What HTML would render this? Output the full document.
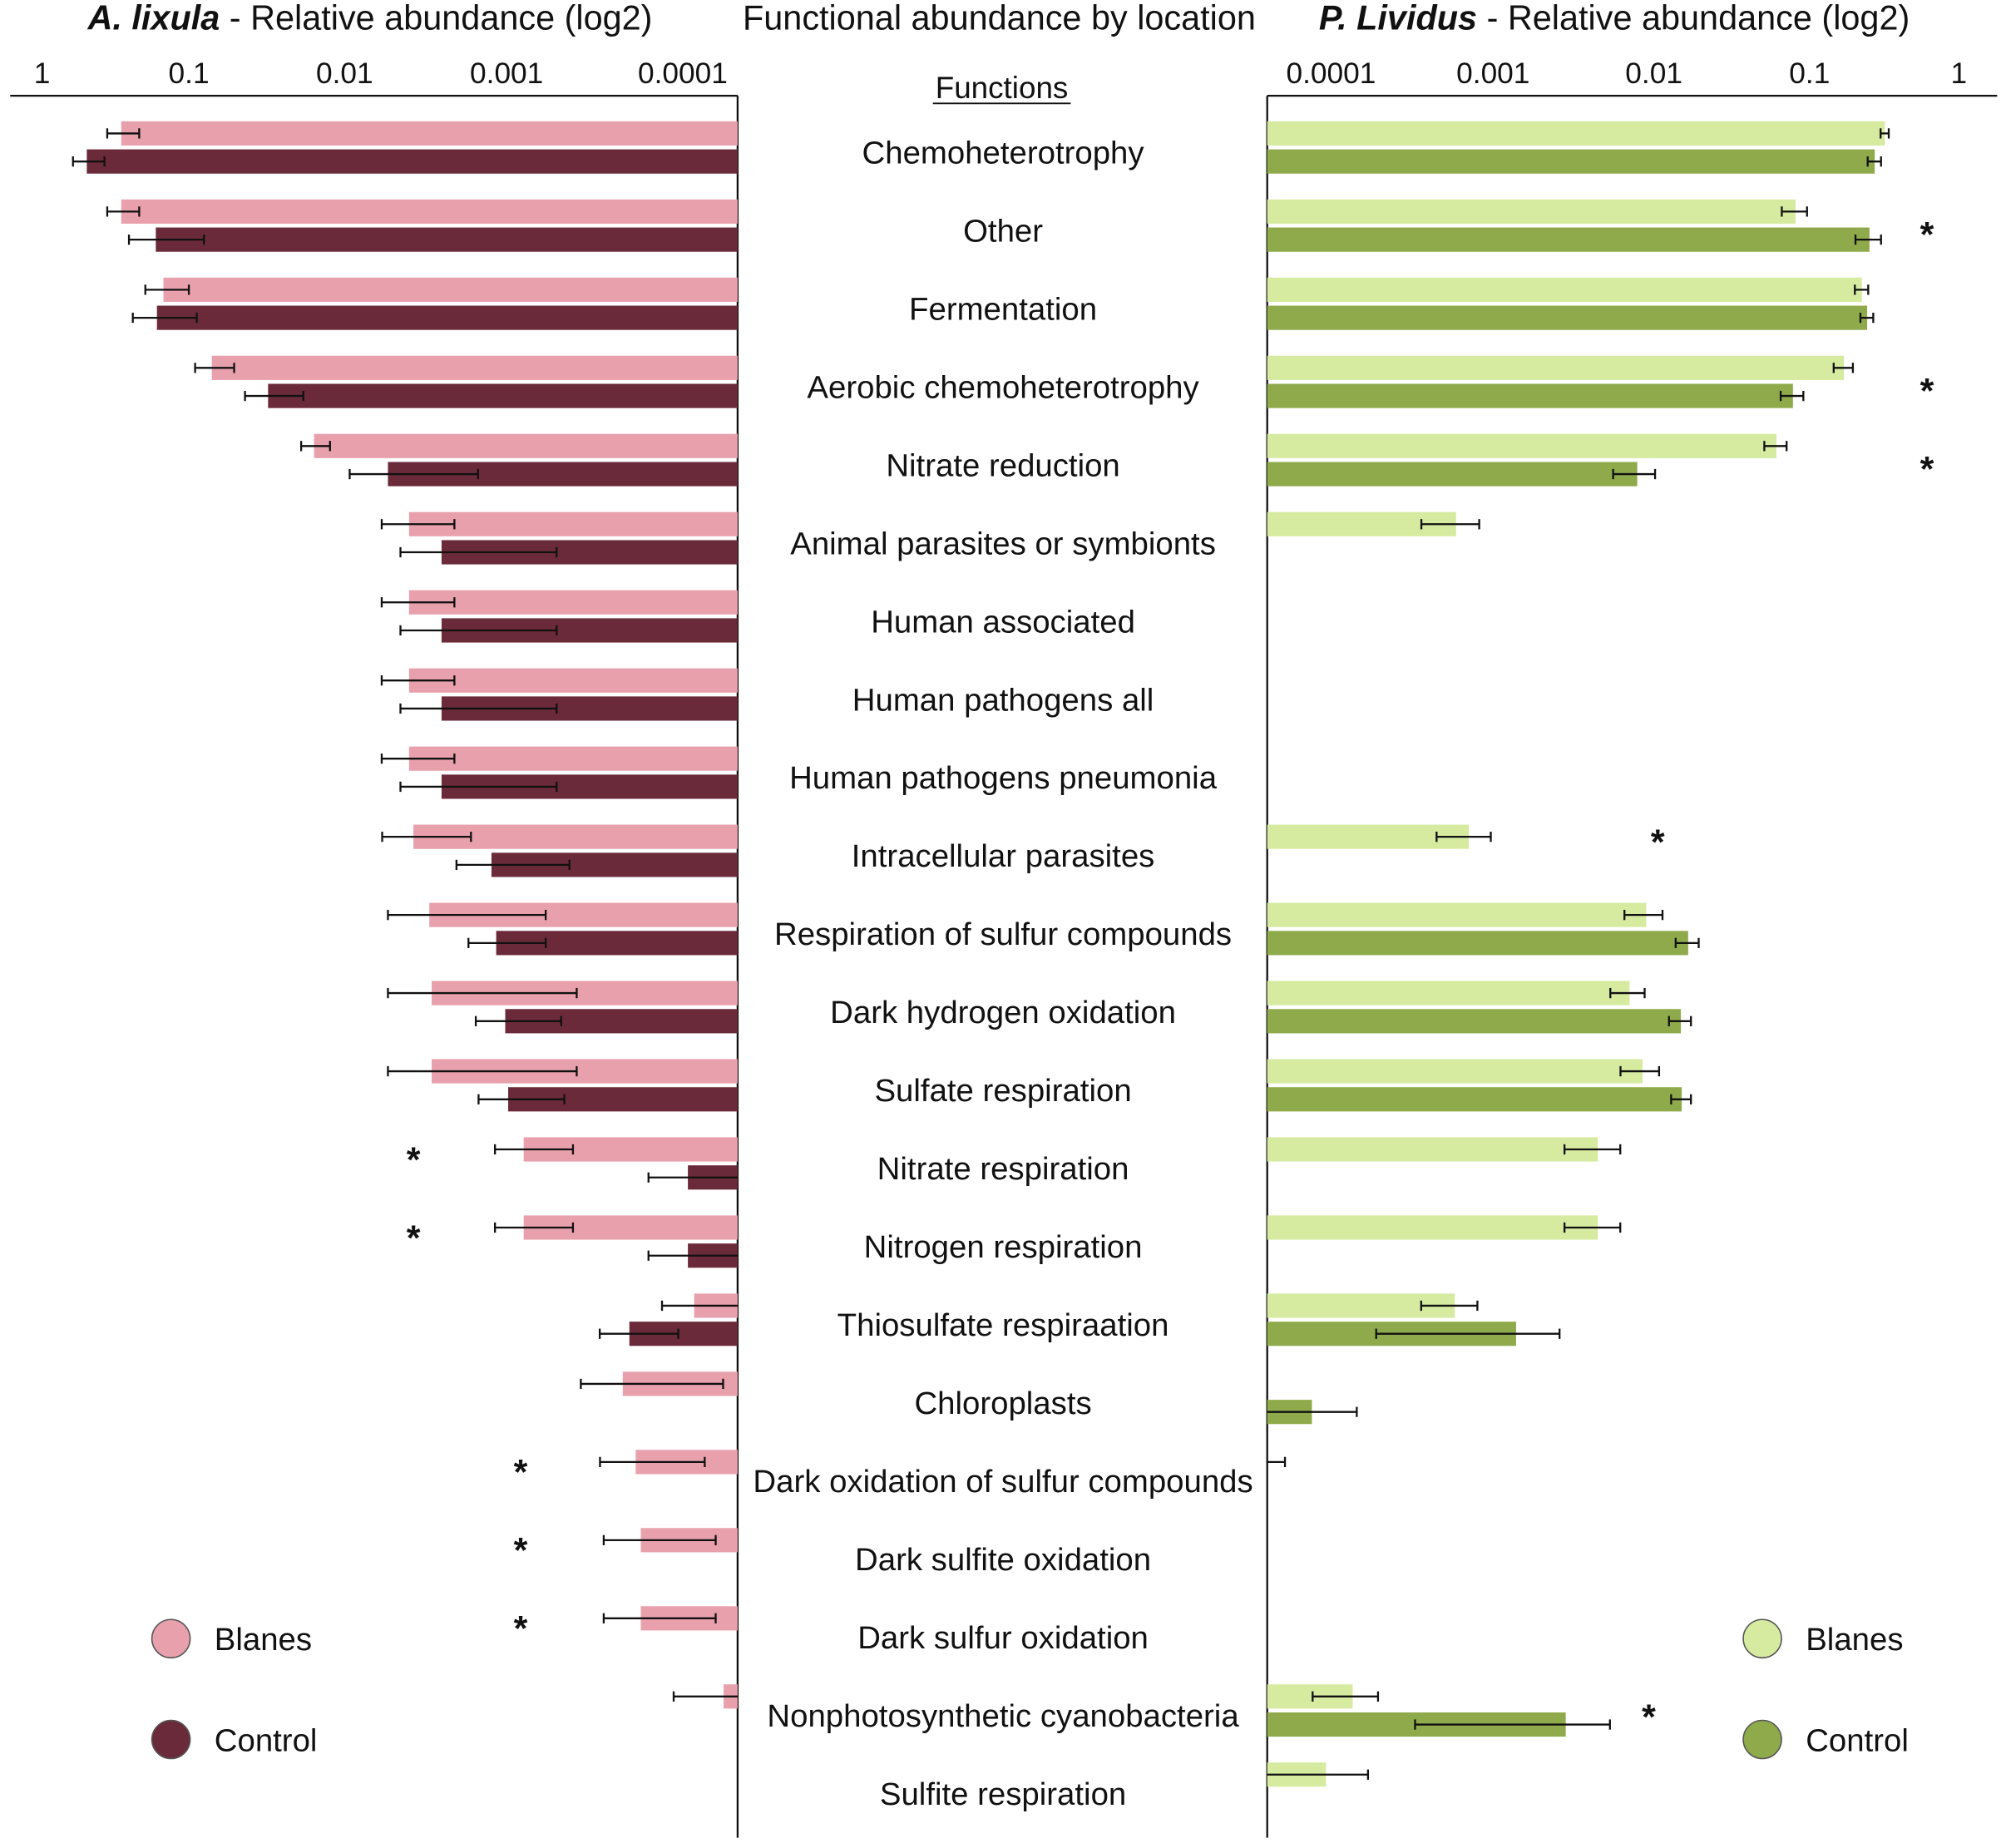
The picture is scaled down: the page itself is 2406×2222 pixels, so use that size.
<!DOCTYPE html>
<html><head><meta charset="utf-8">
<style>
html,body{margin:0;padding:0;background:#fff}
svg{display:block}
text{font-family:"Liberation Sans",sans-serif;fill:#111}
</style></head>
<body>
<svg id="chart" width="2406" height="2222" viewBox="0 0 1568 1448" xmlns="http://www.w3.org/2000/svg">
<g>
<text x="290" y="23" font-size="27" text-anchor="middle"><tspan font-weight="bold" font-style="italic">A. lixula</tspan> - Relative abundance (log2)</text>
<text x="783" y="23" font-size="27" text-anchor="middle">Functional abundance by location</text>
<text x="1265" y="23" font-size="27" text-anchor="middle"><tspan font-weight="bold" font-style="italic">P. Lividus</tspan> - Relative abundance (log2)</text>
<text x="785" y="77" font-size="24" text-anchor="middle">Functions</text>
<line x1="731" y1="81" x2="839" y2="81" stroke="#111" stroke-width="1.2"/>
</g>
<g id="axes"></g>
<g id="bars"></g>
<g id="labels"></g>
<g id="legend">
<circle cx="134" cy="1284" r="15" fill="#e8a0ad" stroke="#555" stroke-width="1"/>
<text x="168" y="1293" font-size="25">Blanes</text>
<circle cx="134" cy="1363" r="15" fill="#6b2a3a" stroke="#555" stroke-width="1"/>
<text x="168" y="1372" font-size="25">Control</text>
<circle cx="1381" cy="1284" r="15" fill="#d6eaa0" stroke="#555" stroke-width="1"/>
<text x="1415" y="1293" font-size="25">Blanes</text>
<circle cx="1381" cy="1363" r="15" fill="#8faa4a" stroke="#555" stroke-width="1"/>
<text x="1415" y="1372" font-size="25">Control</text>
</g>
</svg>
<script>
const functions = ["Chemoheterotrophy","Other","Fermentation","Aerobic chemoheterotrophy","Nitrate reduction","Animal parasites or symbionts","Human associated","Human pathogens all","Human pathogens pneumonia","Intracellular parasites","Respiration of sulfur compounds","Dark hydrogen oxidation","Sulfate respiration","Nitrate respiration","Nitrogen respiration","Thiosulfate respiraation","Chloroplasts","Dark oxidation of sulfur compounds","Dark sulfite oxidation","Dark sulfur oxidation","Nonphotosynthetic cyanobacteria","Sulfite respiration"];
const tickLabels = ["1","0.1","0.01","0.001","0.0001"];
const tickValues = [1,0.1,0.01,0.001,0.0001];
const lixBlanes = [0.289,0.289,0.149,0.0712,0.0157,0.0040,0.0040,0.0040,0.0040,0.00376,0.0030,0.0029,0.0029,0.00080,0.00080,0.0000861,0.000219,0.000185,0.000173,0.000173,0.0000586,0];
const lixBlanesSd = [0.071,0.071,0.049,0.020,0.0033,0.0019,0.0019,0.0019,0.0019,0.0021,0.0024,0.0025,0.0025,0.00038,0.00038,0.000045,0.00016,0.00011,0.000108,0.000108,0.000054,0];
const lixControl = [0.496,0.168,0.165,0.031,0.0054,0.00252,0.00252,0.00252,0.00252,0.00124,0.00116,0.00102,0.00098,0.0000935,0.0000935,0.000201,0,0,0,0,0,0];
const lixControlSd = [0.12,0.088,0.076,0.0126,0.0039,0.0020,0.0020,0.0020,0.0020,0.0008,0.00056,0.00053,0.00051,0.000063,0.000063,0.000095,0,0,0,0,0,0];
const livBlanes = [0.319,0.0813,0.224,0.170,0.0612,0.000591,0,0,0,0.000708,0.00896,0.00706,0.0085,0.00448,0.00448,0.00058,0,0.00003,0,0,0.000136,0.0000931];
const livBlanesSd = [0.02,0.015,0.023,0.025,0.010,0.00023,0,0,0,0.00026,0.0024,0.0017,0.0023,0.0017,0.0017,0.00022,0,0.000022,0,0,0.000059,0.000076];
const livControl = [0.273,0.252,0.243,0.0782,0.00788,0,0,0,0,0,0.0166,0.0149,0.0151,0,0,0.00139,0.0000762,0,0,0,0.00283,0];
const livControlSd = [0.028,0.049,0.024,0.013,0.0023,0,0,0,0,0,0.0028,0.0024,0.0022,0,0,0.0012,0.000068,0,0,0,0.0025,0];
const lixStars = [13,14,17,18,19];
const livStars = [1,3,4,9,20];

const NS="http://www.w3.org/2000/svg";
function mk(tag,attrs,parent){const e=document.createElementNS(NS,tag);for(const k in attrs)e.setAttribute(k,attrs[k]);parent.appendChild(e);return e;}
const leftPos=[33,148,270,397,535], rightPos=[1535,1418,1296,1170,1043];
function interp(pos,v){
  const L=-Math.log10(v);
  let i=Math.floor(L); if(i<0)i=0; if(i>3)i=3;
  return pos[i]+(pos[i+1]-pos[i])*(L-i);
}
const xL=v=>interp(leftPos,v), xR=v=>interp(rightPos,v);
const LAX=578, RAX=993;
const rowY=i=>120+i*61.24;
const axes=document.getElementById('axes'), bars=document.getElementById('bars'), labels=document.getElementById('labels');

let e;
e=mk('line',{x1:8,y1:75,x2:LAX,y2:75,stroke:'#111','stroke-width':1.5},axes);


e=mk('line',{x1:LAX,y1:75,x2:LAX,y2:1440,stroke:'#111','stroke-width':1.5},axes);


e=mk('line',{x1:RAX,y1:75,x2:1565,y2:75,stroke:'#111','stroke-width':1.5},axes);


e=mk('line',{x1:RAX,y1:75,x2:RAX,y2:1440,stroke:'#111','stroke-width':1.5},axes);


tickValues.forEach((v,i)=>{
  let t=mk('text',{x:xL(v),y:65,'font-size':23,'text-anchor':'middle'},axes);t.textContent=tickLabels[i];
  
  
  t=mk('text',{x:xR(v),y:65,'font-size':23,'text-anchor':'middle'},axes);t.textContent=tickLabels[i];
  
  
});

function drawBar(side,v,sd,top,color,name){
  if(v<=0)return;
  const sx=side==='L'?xL:xR, ax=side==='L'?LAX:RAX;
  const x=sx(v);
  const visible = side==='L'? x<ax : x>ax;
  if(visible){
    const r=mk('rect',{x:Math.min(x,ax),y:top,width:Math.abs(ax-x),height:19,fill:color},bars);
    
    
  }
  if(sd>0){
    const hi=sx(v+sd); const lo=(v-sd>0)?sx(v-sd):ax;
    let lo2 = side==='L'?Math.min(lo,ax):Math.max(lo,ax);
    const cy=top+9.5;
    const g=mk('g',{stroke:'#111','stroke-width':1.5},bars);
    
    
    mk('line',{x1:hi,y1:cy,x2:lo2,y2:cy},g);
    mk('line',{x1:hi,y1:cy-4,x2:hi,y2:cy+4},g);
    if(lo2!==ax) mk('line',{x1:lo2,y1:cy-4,x2:lo2,y2:cy+4},g);
  }
}
functions.forEach((f,i)=>{
  const y=rowY(i);
  const t=mk('text',{x:786,y:y+8,'font-size':25,'text-anchor':'middle'},labels);
  t.textContent=f;
  
  
  drawBar('L',lixBlanes[i],lixBlanesSd[i],y-25,'#e8a0ad','lixula-blanes-bar');
  drawBar('L',lixControl[i],lixControlSd[i],y-3,'#6b2a3a','lixula-control-bar');
  drawBar('R',livBlanes[i],livBlanesSd[i],y-25,'#d6eaa0','lividus-blanes-bar');
  drawBar('R',livControl[i],livControlSd[i],y-3,'#8faa4a','lividus-control-bar');
});
lixStars.forEach(i=>{
  const x=i<15?324:408;
  const s=mk('text',{x:x,y:rowY(i)+2,'font-size':28,'font-weight':'bold','text-anchor':'middle'},labels);
  s.textContent='*';
  
  
});
livStars.forEach(i=>{
  const x=i===9?1299:(i===20?1292:1510);
  const dy=i===9?-2:(i===20?10:12);
  const s=mk('text',{x:x,y:rowY(i)+dy,'font-size':28,'font-weight':'bold','text-anchor':'middle'},labels);
  s.textContent='*';
  
  
});
</script>
</body></html>
